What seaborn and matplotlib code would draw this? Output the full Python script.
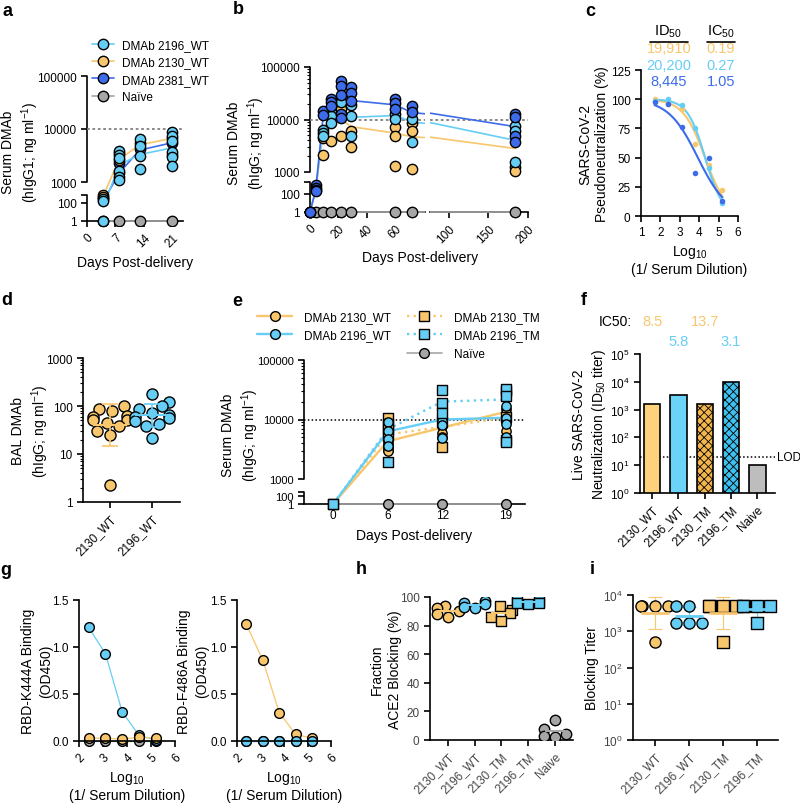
import numpy as np
import matplotlib
matplotlib.use("Agg")
import matplotlib.pyplot as plt
import matplotlib.transforms as mtransforms
from matplotlib.lines import Line2D
from matplotlib.ticker import NullLocator
import seaborn as sns

sns.set_style("ticks")
plt.rcParams["font.family"] = ["Liberation Sans", "DejaVu Sans"]
plt.rcParams.update({
    "mathtext.fontset": "custom",
    "mathtext.rm": "Liberation Sans",
    "mathtext.it": "Liberation Sans:italic",
    "mathtext.bf": "Liberation Sans:bold",
    "axes.edgecolor": "black", "axes.labelcolor": "black", "text.color": "black",
    "xtick.color": "black", "ytick.color": "black",
    "axes.linewidth": 1.2,
    "xtick.major.width": 1.2, "ytick.major.width": 1.2,
    "xtick.major.size": 4, "ytick.major.size": 4,
    "ytick.minor.size": 2, "ytick.minor.width": 0.8,
    "xtick.labelsize": 8.5, "ytick.labelsize": 8.5,
    "axes.labelsize": 10, "legend.fontsize": 8.5,
    "hatch.linewidth": 0.6,
})

ORANGE = "#F8C66C"
CYAN = "#66CDF4"
BLUE = "#3D6CEB"
GRAY = "#A6A6A6"

# a: serum DMAb, WT constructs
a_days = [4, 8, 13, 21]
a_2196 = [[150, 120, 1], [3800, 3300, 2800, 1600, 1250, 1100],
          [6500, 4700, 3100, 1750], [8800, 7400, 5900, 3700, 3000, 2000]]
a_2130 = [[250, 200], [3500, 2600], [5500], [6800]]
a_2381 = [[180], [2300, 1500], [4200], [5500, 3300]]
a_2196_mean = [40, 2100, 3300, 4400]
a_2130_mean = [220, 2700, 5000, 6700]
a_2381_mean = [120, 1500, 4000, 5500]
a_naive = [1, 1, 1, 1]

# b: long-term serum DMAb
b_days = [0, 4, 9, 15, 22, 29, 60, 72, 184]
b_2381 = [[1], [250, 190, 150, 130], [14500, 12000], [25000, 22000, 17800],
          [53000, 43000, 29000, 13000, 10500], [41000, 31500, 23000],
          [25000, 20300, 16200], [17800, 14200], [13000, 11400, 4900, 3800]]
b_2196 = [[1], [], [6200, 5500, 4800], [14200, 11900, 8400], [22000],
          [18600, 11900, 4900], [13000, 10400], [10400, 3800], [7650, 6100, 1560]]
b_2130 = [[1], [], [4500, 2100], [3950], [16000, 4900], [6100, 3000],
          [7300, 4900, 1300], [8400, 6100, 1140], [1250, 1050]]
b_2381_mean = [1, 150, 10000, 23000, 27000, 23000, 19000, 13500, 7300]
b_2196_mean = [1, 150, 6500, 10400, 11900, 11000, 11900, 9000, 4000]
b_2130_mean = [1, 150, 4900, 9000, 10000, 7300, 5500, 4700, 2800]
b_naive = [1, 1, 1, 1, 1, 1, 1, 1, 1]

# c: pseudoneutralization
c_x = [1.7, 2.4, 3.1, 3.8, 4.5, 5.2]
c_2130 = [100, 96, 92, 62, 44, 22]
c_2196 = [98.5, 100, 95, 75, 41, 11]
c_2381 = [98, 96, 76, 36.5, 49.5, 12.5]
c_log_id50 = [4.30, 4.305, 3.93]
c_hill = [0.77, 0.95, 0.57]
c_id50_text = ["19,910", "20,200", "8,445"]
c_ic50_text = ["0.19", "0.27", "1.05"]

# d: BAL DMAb
d_cats = ["2130_WT", "2196_WT"]
d_2130 = [100, 85, 78, 62, 58, 52, 50, 45, 38, 30, 25, 2.3]
d_2196 = [180, 120, 100, 85, 70, 65, 60, 55, 48, 42, 38, 22]

# e: WT vs TM
e_days = [0, 6, 12, 19]
e_2130wt = [[1], [4800, 4200, 3800, 3400, 3100, 2900], [7800, 6000, 5000],
            [27000, 15000, 13000, 9000, 6500]]
e_2196wt = [[1], [9000, 6300, 4700, 3600], [14500, 11500, 9500, 8000, 4800],
            [17000, 10500, 8500, 5000]]
e_2130tm = [[1], [10500, 8500, 7000, 5500], [9000, 3500], [30000, 11000, 4500]]
e_2196tm = [[1], [1900], [31000, 19000, 13000], [32000, 25000, 4200]]
e_2130wt_mean = [1, 4300, 7300, 13500]
e_2196wt_mean = [1, 6300, 10000, 10700]
e_2130tm_mean = [1, 5600, 7500, 10800]
e_2196tm_mean = [1, 6800, 20000, 21700]
e_naive = [1, 1, 1, 1]

# f: live virus neutralization
f_cats = ["2130_WT", "2196_WT", "2130_TM", "2196_TM", "Naive"]
f_id50 = [1600, 3300, 1600, 10000, 10]
f_ic50 = ["8.5", "5.8", "13.7", "3.1"]
f_lod = 20

# g: escape mutant binding
g_x = [2.4, 3.1, 3.8, 4.5, 5.2]
g_k444a_2196 = [1.21, 0.93, 0.31, 0.06, 0.01]
g_k444a_2130 = [0.03, 0.03, 0.02, 0.04, 0.03]
g_f486a_2130 = [1.24, 0.86, 0.30, 0.07, 0.03]
g_f486a_2196 = [0, 0, 0, 0, 0]
g_naive = [0, 0, 0, 0, 0]

# h: ACE2 blocking
h_cats = ["2130_WT", "2196_WT", "2130_TM", "2196_TM", "Naive"]
h_vals = [[94, 92, 90, 88, 86], [97, 96, 95, 93, 92], [94, 91, 89, 86, 83],
          [98, 97, 96, 96, 95], [14, 8, 4, 3, 2]]

# i: blocking titer
i_cats = ["2130_WT", "2196_WT", "2130_TM", "2196_TM"]
i_vals = [[5000, 5000, 5000, 5000, 500], [5000, 5000, 1700, 1700, 1700],
          [5000, 5000, 5000, 5000, 500], [5000, 5000, 5000, 5000, 1700]]

W, H = 800, 804
fig = plt.figure(figsize=(W / 100, H / 100), dpi=100)


def px_axes(l, t, r, b):
    return fig.add_axes([l / W, 1 - b / H, (r - l) / W, (b - t) / H])


def ylab_at(ax, px):
    # centre the y label block on a given figure pixel column
    bb = ax.get_position()
    ax.yaxis.set_label_coords((px / W - bb.x0) / bb.width, 0.5)
    ax.yaxis.label.set_verticalalignment("center")


def broken_y(l, r, y1, logs, us, low_top, minor=False, show_y=True):
    def fwd(v):
        return np.interp(np.log10(np.clip(v, 1e-12, None)), logs, us)

    def inv(u):
        return 10 ** np.interp(u, us, logs)

    ax = px_axes(l, y1 - us[-1], r, y1 + 5)
    ax.set_yscale("function", functions=(fwd, inv))
    ax.set_ylim(inv(-5), 10 ** logs[-1])
    for s in ("left", "top", "right"):
        ax.spines[s].set_visible(False)
    ax.spines["bottom"].set_position(("data", 1))
    if show_y:
        cut = float(inv(low_top))
        tr = ax.get_yaxis_transform()
        ax.plot([0, 0], [1, cut], transform=tr, color="black", lw=1.2, clip_on=False)
        ax.plot([0, 0], [1000, 10 ** logs[-1]], transform=tr, color="black", lw=1.2, clip_on=False)
        ax.set_yticks([1, 100, cut, 1000, 10000, 100000],
                      ["1", "100", "", "1000", "10000", "100000"])
        if minor:
            ax.set_yticks([k * 10 ** e for e in (3, 4) for k in range(2, 10)], minor=True)
    else:
        ax.tick_params(axis="y", which="both", left=False, labelleft=False)
    return ax


def dots(ax, days, groups, color, marker="o", s=55, z=4):
    lo, hi = ax.get_xlim()
    xs, ys = [], []
    for d, g in zip(days, groups):
        if lo <= d <= hi:
            xs += [d] * len(g)
            ys += list(g)
    if xs:
        sns.scatterplot(x=xs, y=ys, color=color, marker=marker, s=s, edgecolor="black",
                        linewidth=1, ax=ax, zorder=z, clip_on=False, legend=False)


def naive_line(ax, days, vals, ms=7.5):
    ax.plot(days, vals, color=GRAY, lw=1.2, marker="o", mfc=GRAY, mec="black",
            mew=1, ms=ms, zorder=3.5)


def panel_letter(x, y, s):
    fig.text(x / W, 1 - y / H, s, fontsize=13, fontweight="bold", ha="center", va="center")


def rot_labels(ax, ticks, labels):
    ax.set_xticks(ticks, labels, rotation=45, ha="right", rotation_mode="anchor")


# ---------------- a
ax = broken_y(87, 183, 222, [-2, 0, 2, 3, 5], [-18, 0, 18, 39, 145], 26)
ax.set_xlim(0, 23.7)
ax.axhline(10000, color="gray", ls=(0, (1.5, 1.5)), lw=1.3)
ax.plot(a_days, a_2130_mean, color=ORANGE, lw=1.2, zorder=2)
ax.plot(a_days, a_2381_mean, color=BLUE, lw=1.2, zorder=2)
ax.plot(a_days, a_2196_mean, color=CYAN, lw=1.2, zorder=2)
naive_line(ax, a_days, a_naive)
dots(ax, a_days, a_2381, BLUE)
dots(ax, a_days, a_2130, ORANGE)
dots(ax, a_days, a_2196, CYAN)
rot_labels(ax, [0, 7, 14, 21], ["0", "7", "14", "21"])
ax.set_xlabel("Days Post-delivery", labelpad=4)
ax.set_ylabel("Serum DMAb\n(hIgG1; ng ml$^{-1}$)", linespacing=1.3)
ylab_at(ax, 21)
leg_a = [Line2D([], [], color=c, lw=1.2, marker="o", mfc=c, mec="black", ms=7.5, label=l)
         for c, l in [(CYAN, "DMAb 2196_WT"), (ORANGE, "DMAb 2130_WT"),
                      (BLUE, "DMAb 2381_WT"), (GRAY, "Naïve")]]
fig.legend(handles=leg_a, loc="upper left", bbox_to_anchor=(92 / W, 1 - 40 / H),
           frameon=False, handlelength=1.9, handletextpad=0.6, labelspacing=0.45,
           borderpad=0, borderaxespad=0)

# ---------------- b
bl = broken_y(310, 425, 213, [-2, 0, 2, 3, 5], [-18, 0, 18, 40, 145], 30, minor=True)
br = broken_y(430, 528, 213, [-2, 0, 2, 3, 5], [-18, 0, 18, 40, 145], 30, show_y=False)
bl.set_xlim(0, 81)
br.set_xlim(76, 200)
for axb in (bl, br):
    axb.axhline(10000, color="gray", ls=(0, (1.5, 1.5)), lw=1.3)
    axb.plot(b_days, b_2130_mean, color=ORANGE, lw=1.2, zorder=2)
    axb.plot(b_days, b_2196_mean, color=CYAN, lw=1.2, zorder=2)
    axb.plot(b_days, b_2381_mean, color=BLUE, lw=1.2, zorder=2)
    axb.plot(b_days, b_naive, color=GRAY, lw=1.2, zorder=3)
    lo, hi = axb.get_xlim()
    nd = [d for d in b_days if lo <= d <= hi]
    axb.plot(nd, [1] * len(nd), ls="none", marker="o", mfc=GRAY, mec="black", ms=7.5,
             zorder=3.5, clip_on=False)
    dots(axb, b_days, b_2130, ORANGE)
    dots(axb, b_days, b_2196, CYAN)
    dots(axb, b_days, b_2381, BLUE)
rot_labels(bl, [0, 20, 40, 60], ["0", "20", "40", "60"])
rot_labels(br, [100, 150, 200], ["100", "150", "200"])
bl.set_ylabel("Serum DMAb\n(hIgG; ng ml$^{-1}$)", linespacing=1.3)
ylab_at(bl, 247)
fig.text(420 / W, 1 - 258 / H, "Days Post-delivery", fontsize=10, ha="center", va="center")

# ---------------- c
ax = px_axes(641, 71, 738, 217)
sns.despine(ax=ax)
xx = np.linspace(c_x[0], c_x[-1], 120)
for ys, c, x50, hill in zip([c_2130, c_2196, c_2381], [ORANGE, CYAN, BLUE], c_log_id50, c_hill):
    ax.plot(xx, 100 / (1 + 10 ** ((xx - x50) * hill)), color=c, lw=1.5)
    sns.scatterplot(x=c_x, y=ys, color=c, s=16, linewidth=0, ax=ax, legend=False, zorder=3)
ax.set_xlim(1, 6)
ax.set_ylim(0, 125)
ax.set_xticks(range(1, 7))
ax.set_yticks([0, 25, 50, 75, 100, 125])
ax.set_xlabel("Log$_{10}$\n(1/ Serum Dilution)", labelpad=3)
ax.set_ylabel("SARS-CoV-2\nPseudoneutralization (%)", linespacing=1.25)
ylab_at(ax, 594)
fig.text(668 / W, 1 - 32 / H, "ID$_{50}$", fontsize=10.5, ha="center", va="center")
fig.text(721 / W, 1 - 32 / H, "IC$_{50}$", fontsize=10.5, ha="center", va="center")
fig.add_artist(Line2D([650 / W, 688 / W], [1 - 43 / H] * 2, color="black", lw=1.2))
fig.add_artist(Line2D([707 / W, 735 / W], [1 - 43 / H] * 2, color="black", lw=1.2))
for k, (t1, t2, c) in enumerate(zip(c_id50_text, c_ic50_text, [ORANGE, CYAN, BLUE])):
    yy = 1 - (49 + 16.5 * k) / H
    fig.text(669 / W, yy, t1, color=c, fontsize=10.5, ha="center", va="center")
    fig.text(721 / W, yy, t2, color=c, fontsize=10.5, ha="center", va="center")

# ---------------- d
ax = px_axes(83, 359, 180, 503)
ax.set_yscale("log")
sns.despine(ax=ax)
for k, (vals, c) in enumerate(zip([d_2130, d_2196], [ORANGE, CYAN])):
    sns.swarmplot(x=[d_cats[k]] * len(vals), y=vals, order=d_cats, color=c, size=8,
                  edgecolor="black", linewidth=1, ax=ax, zorder=3, warn_thresh=1)
    lg = np.log10(vals)
    gm, gsd = 10 ** lg.mean(), 10 ** lg.std(ddof=1)
    ax.hlines(gm, k - 0.4, k + 0.4, color=c, lw=1.5, zorder=5)
    ax.errorbar(k, gm, yerr=[[gm - gm / gsd], [gm * gsd - gm]], color=c, lw=1.2,
                capsize=6, capthick=1.2, zorder=5)
ax.set_xlim(-0.64, 1.67)
ax.set_ylim(1, 1000)
ax.set_yticks([1, 10, 100, 1000], ["1", "10", "100", "1000"])
rot_labels(ax, [0, 1], d_cats)
ax.set_xlabel("")
ax.set_ylabel("BAL DMAb\n(hIgG; ng ml$^{-1}$)", linespacing=1.25)
ylab_at(ax, 31)

# ---------------- e
ax = broken_y(304, 525, 505, [-2, 0, 2, 3, 5], [-8, 0, 8, 25, 144], 12, minor=True)
ax.set_xlim(-3.2, 21.1)
ax.axhline(10000, color="black", ls=(0, (1, 1.5)), lw=1.1)
ax.plot(e_days, e_2130tm_mean, color=ORANGE, lw=1.7, ls=(0, (1, 1.8)), zorder=2)
ax.plot(e_days, e_2196tm_mean, color=CYAN, lw=1.7, ls=(0, (1, 1.8)), zorder=2)
ax.plot(e_days, e_2130wt_mean, color=ORANGE, lw=1.7, zorder=2)
ax.plot(e_days, e_2196wt_mean, color=CYAN, lw=1.7, zorder=2)
naive_line(ax, e_days, e_naive, ms=7)
dots(ax, e_days, e_2130wt, ORANGE, s=45)
dots(ax, e_days, e_2130tm, ORANGE, marker="s", s=45)
dots(ax, e_days, e_2196wt, CYAN, s=45)
dots(ax, e_days, e_2196tm, CYAN, marker="s", s=45)
ax.set_xticks(e_days, [str(d) for d in e_days])
ax.tick_params(axis="x", length=0)
ax.tick_params(axis="y", labelsize=8)
ax.set_xlabel("Days Post-delivery", labelpad=5)
ax.set_ylabel("Serum DMAb\n(hIgG; ng ml$^{-1}$)", linespacing=1.25)
ylab_at(ax, 241)
leg_e = [
    Line2D([], [], color=ORANGE, lw=1.7, marker="o", mfc=ORANGE, mec="black", ms=7, label="DMAb 2130_WT"),
    Line2D([], [], color=CYAN, lw=1.7, marker="o", mfc=CYAN, mec="black", ms=7, label="DMAb 2196_WT"),
    Line2D([], [], color="none", label=" "),
    Line2D([], [], color=ORANGE, lw=1.7, ls=(0, (1, 1.8)), marker="s", mfc=ORANGE, mec="black", ms=6.5, label="DMAb 2130_TM"),
    Line2D([], [], color=CYAN, lw=1.7, ls=(0, (1, 1.8)), marker="s", mfc=CYAN, mec="black", ms=6.5, label="DMAb 2196_TM"),
    Line2D([], [], color=GRAY, lw=1.2, marker="o", mfc=GRAY, mec="black", ms=7, label="Naïve"),
]
fig.legend(handles=leg_e, loc="upper left", bbox_to_anchor=(257 / W, 1 - 312 / H), ncol=2,
           frameon=False, handlelength=3, handletextpad=1.0, columnspacing=1.3,
           labelspacing=0.55, borderpad=0, borderaxespad=0)

# ---------------- f
ax = px_axes(640, 355, 775, 494)
sns.despine(ax=ax)
sns.barplot(x=f_cats, y=f_id50, hue=f_cats, legend=False, order=f_cats,
            palette=["#FDD27C", "#6BD2F8", "#F3B64A", "#3FC0EE", "#BDBDBD"],
            saturation=1, width=0.62, edgecolor="black", linewidth=1.2, ax=ax)
for p in ax.patches[2:4]:
    p.set_hatch("xxxx")
ax.set_yscale("log")
ax.set_ylim(1, 1e5)
ax.set_xlim(-0.46, 4.67)
ax.set_yticks([10 ** k for k in range(6)])
ax.yaxis.set_minor_locator(NullLocator())
ax.axhline(f_lod, color="black", ls=(0, (1, 1.5)), lw=1.1, zorder=0.5)
ax.text(1.015, f_lod, "LOD", transform=ax.get_yaxis_transform(), va="center", fontsize=8.5)
rot_labels(ax, range(len(f_cats)), f_cats)
ax.set_ylabel("Live SARS-CoV-2\nNeutralization (ID$_{50}$ titer)", linespacing=1.3)
ylab_at(ax, 590)
bt = mtransforms.blended_transform_factory(ax.transData, fig.transFigure)
for k, t in enumerate(f_ic50):
    yy = 1 - (322 if k % 2 == 0 else 342) / H
    ax.text(k, yy, t, transform=bt, color=ORANGE if k % 2 == 0 else CYAN, fontsize=10.5,
            ha="center", va="center")
fig.text(615 / W, 1 - 322 / H, "IC50:", fontsize=10, ha="center", va="center")

# ---------------- g
for (l, r), series, ylab, ylx in [
    ((79, 175), [(g_naive, GRAY), (g_k444a_2196, CYAN), (g_k444a_2130, ORANGE)], "RBD-K444A Binding\n(OD450)", 37),
    ((237, 331), [(g_naive, GRAY), (g_f486a_2130, ORANGE), (g_f486a_2196, CYAN)], "RBD-F486A Binding\n(OD450)", 193),
]:
    ax = px_axes(l, 601, r, 742)
    sns.despine(ax=ax)
    for ys, c in series:
        ax.plot(g_x, ys, color=c, lw=0.9, marker="o", mfc=c, mec="black", mew=1, ms=7,
                clip_on=False)
    ax.set_xlim(2, 6)
    ax.set_ylim(0, 1.5)
    ax.set_yticks([0, 0.5, 1.0, 1.5], ["0.0", "0.5", "1.0", "1.5"])
    rot_labels(ax, range(2, 7), [str(v) for v in range(2, 7)])
    ax.set_xlabel("Log$_{10}$\n(1/ Serum Dilution)", labelpad=3)
    ax.set_ylabel(ylab, linespacing=1.3)
    ylab_at(ax, ylx)

# ---------------- h
ax = px_axes(430, 598, 573, 741)
sns.despine(ax=ax)
h_cols = [ORANGE, CYAN, ORANGE, CYAN, GRAY]
h_marks = ["o", "o", "s", "s", "o"]
for k, vals in enumerate(h_vals):
    sns.swarmplot(x=[h_cats[k]] * len(vals), y=vals, order=h_cats, color=h_cols[k],
                  marker=h_marks[k], size=7.5, edgecolor="black", linewidth=1, ax=ax,
                  zorder=3, warn_thresh=1)
    ax.hlines(np.mean(vals), k - 0.38, k + 0.38, color=h_cols[k], lw=1.5, zorder=5)
ax.set_xlim(-0.67, 4.68)
ax.set_ylim(0, 100)
ax.set_yticks(range(0, 101, 20))
rot_labels(ax, range(len(h_cats)), h_cats)
ax.tick_params(labelcolor="#444444")
ax.set_xlabel("")
ax.set_ylabel("Fraction\nACE2 Blocking (%)", linespacing=1.3)
ylab_at(ax, 386)

# ---------------- i
ax = px_axes(633, 596, 778, 741)
ax.set_yscale("log")
sns.despine(ax=ax)
i_cols = [ORANGE, CYAN, ORANGE, CYAN]
i_marks = ["o", "o", "s", "s"]
for k, vals in enumerate(i_vals):
    sns.swarmplot(x=[i_cats[k]] * len(vals), y=vals, order=i_cats, color=i_cols[k],
                  marker=i_marks[k], size=8, edgecolor="black", linewidth=1, ax=ax,
                  zorder=3, warn_thresh=1)
    lg = np.log10(vals)
    gm, gsd = 10 ** lg.mean(), 10 ** lg.std(ddof=1)
    ax.errorbar(k, gm, yerr=[[gm - gm / gsd], [gm * gsd - gm]], color=i_cols[k], lw=0.8,
                capsize=5, capthick=0.8, zorder=2)
    ax.hlines(gm, k - 0.42, k + 0.42, color=i_cols[k], lw=2, zorder=5)
ax.set_xlim(-0.65, 3.62)
ax.set_ylim(1, 1e4)
ax.yaxis.set_minor_locator(NullLocator())
rot_labels(ax, range(len(i_cats)), i_cats)
ax.tick_params(labelcolor="#444444")
ax.set_xlabel("")
ax.set_ylabel("Blocking Titer")
ylab_at(ax, 592)

for x, y, s in [(7, 11, "a"), (238, 10, "b"), (590, 11, "c"), (7, 301, "d"), (237, 302, "e"),
                (584, 301, "f"), (6, 571, "g"), (361, 570, "h"), (592, 570, "i")]:
    panel_letter(x, y, s)

fig.savefig("out.png", dpi=100)
